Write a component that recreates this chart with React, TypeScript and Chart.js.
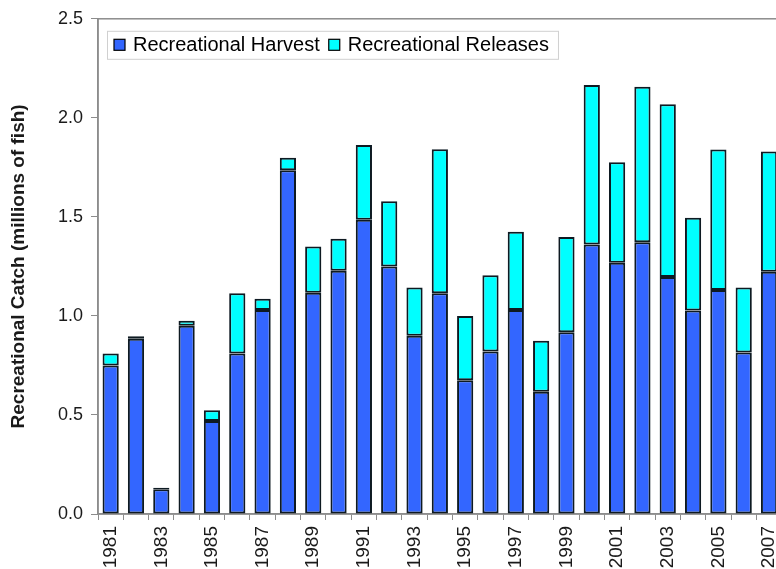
import React, { useEffect, useRef } from 'react';
import { Chart, registerables } from 'chart.js';

Chart.register(...registerables);

const years = [
  '1981', '1982', '1983', '1984', '1985', '1986', '1987', '1988', '1989', '1990',
  '1991', '1992', '1993', '1994', '1995', '1996', '1997', '1998', '1999', '2000',
  '2001', '2002', '2003', '2004', '2005', '2006', '2007',
];

const harvest = [
  0.75, 0.885, 0.125, 0.95, 0.47, 0.81, 1.03, 1.735, 1.117, 1.228,
  1.485, 1.25, 0.9, 1.115, 0.675, 0.82, 1.03, 0.617, 0.917, 1.36,
  1.268, 1.372, 1.196, 1.027, 1.131, 0.815, 1.223,
];

const releases = [
  0.06, 0.012, 0.008, 0.026, 0.054, 0.305, 0.057, 0.063, 0.234, 0.162,
  0.378, 0.329, 0.244, 0.726, 0.325, 0.385, 0.395, 0.258, 0.481, 0.806,
  0.508, 0.785, 0.872, 0.468, 0.709, 0.329, 0.607,
];

const seriesNames = ['Recreational Harvest', 'Recreational Releases'];
const seriesColors = ['#3366FF', '#00FFFF'];
const yTitle = 'Recreational Catch (millions of fish)';

const FONT = "'Liberation Sans', Arial, Helvetica, sans-serif";

const framePlugin = {
  id: 'frameBox',
  beforeDatasetsDraw(chart: any) {
    const { ctx, chartArea: ca } = chart;
    ctx.save();
    ctx.strokeStyle = '#8c8c8c';
    ctx.lineWidth = 1.5;
    ctx.strokeRect(ca.left, ca.top, ca.right - ca.left, ca.bottom - ca.top);
    ctx.restore();
  },
};

const legendPlugin = {
  id: 'boxLegend',
  afterDraw(chart: any) {
    const { ctx, chartArea: ca } = chart;
    ctx.save();
    ctx.font = `20px ${FONT}`;
    const x0 = ca.left + 9;
    const y0 = ca.top + 12;
    const h = 28;
    const sw = 11;
    const widths = seriesNames.map((n) => ctx.measureText(n).width);
    let total = 7;
    widths.forEach((w) => {
      total += sw + 8 + w + 9;
    });
    ctx.fillStyle = '#ffffff';
    ctx.fillRect(x0, y0, total, h);
    ctx.strokeStyle = '#d0d0d0';
    ctx.lineWidth = 1;
    ctx.strokeRect(x0 + 0.5, y0 + 0.5, total, h);
    let x = x0 + 7;
    const cy = y0 + h / 2;
    seriesNames.forEach((n, i) => {
      ctx.fillStyle = seriesColors[i];
      ctx.fillRect(x, cy - sw / 2, sw, sw);
      ctx.strokeStyle = '#000';
      ctx.lineWidth = 1.2;
      ctx.strokeRect(x, cy - sw / 2, sw, sw);
      x += sw + 8;
      ctx.fillStyle = '#000';
      ctx.textBaseline = 'middle';
      ctx.textAlign = 'left';
      ctx.fillText(n, x, cy + 1);
      x += widths[i] + 9;
    });
    ctx.restore();
  },
};

export default function App() {
  const ref = useRef<HTMLCanvasElement>(null);

  useEffect(() => {
    if (!ref.current) return;
    const chart = new Chart(ref.current, {
      type: 'bar',
      data: {
        labels: years,
        datasets: [
          {
            label: seriesNames[0],
            data: harvest,
            backgroundColor: seriesColors[0],
            borderColor: '#0e1a22',
            borderWidth: 2,
            borderSkipped: false,
            categoryPercentage: 1,
            barPercentage: 0.64,
          },
          {
            label: seriesNames[1],
            data: releases,
            backgroundColor: seriesColors[1],
            borderColor: '#0e1a22',
            borderWidth: 2,
            borderSkipped: false,
            categoryPercentage: 1,
            barPercentage: 0.64,
          },
        ],
      },
      options: {
        responsive: false,
        animation: false,
        layout: { padding: { top: 18, right: 9, left: 0, bottom: 0 } },
        plugins: {
          legend: { display: false },
          tooltip: { enabled: false },
        },
        scales: {
          x: {
            stacked: true,
            grid: {
              offset: true,
              drawOnChartArea: false,
              drawTicks: true,
              tickLength: 6,
              color: '#8c8c8c',
              lineWidth: 1,
            },
            border: { color: '#8c8c8c', width: 1.5 },
            ticks: {
              autoSkip: false,
              minRotation: 90,
              maxRotation: 90,
              padding: 6,
              color: '#1a1a1a',
              font: { family: FONT, size: 19 },
              callback: (_v: any, i: number) => (i % 2 === 0 ? years[i] : ''),
            },
            afterFit: (s: any) => {
              s.height = 55;
            },
          },
          y: {
            stacked: true,
            min: 0,
            max: 2.5,
            grid: {
              drawOnChartArea: false,
              drawTicks: true,
              tickLength: 7,
              color: '#8c8c8c',
              lineWidth: 1,
            },
            border: { color: '#8c8c8c', width: 1.5 },
            ticks: {
              stepSize: 0.5,
              padding: 8,
              color: '#1a1a1a',
              font: { family: FONT, size: 18 },
              callback: (v: any) => Number(v).toFixed(1),
            },
            title: {
              display: true,
              text: yTitle,
              color: '#1a1a1a',
              font: { family: FONT, size: 19, weight: 'bold' },
              padding: { top: 7, bottom: 0 },
            },
            afterFit: (s: any) => {
              s.width = 98;
            },
          },
        },
      },
      plugins: [framePlugin, legendPlugin],
    });
    return () => chart.destroy();
  }, []);

  return (
    <div
      style={{
        position: 'fixed',
        left: 0,
        top: 0,
        width: 776,
        height: 569,
        overflow: 'hidden',
        background: '#fff',
      }}
    >
      <canvas ref={ref} width={798} height={569} style={{ display: 'block' }} />
    </div>
  );
}
